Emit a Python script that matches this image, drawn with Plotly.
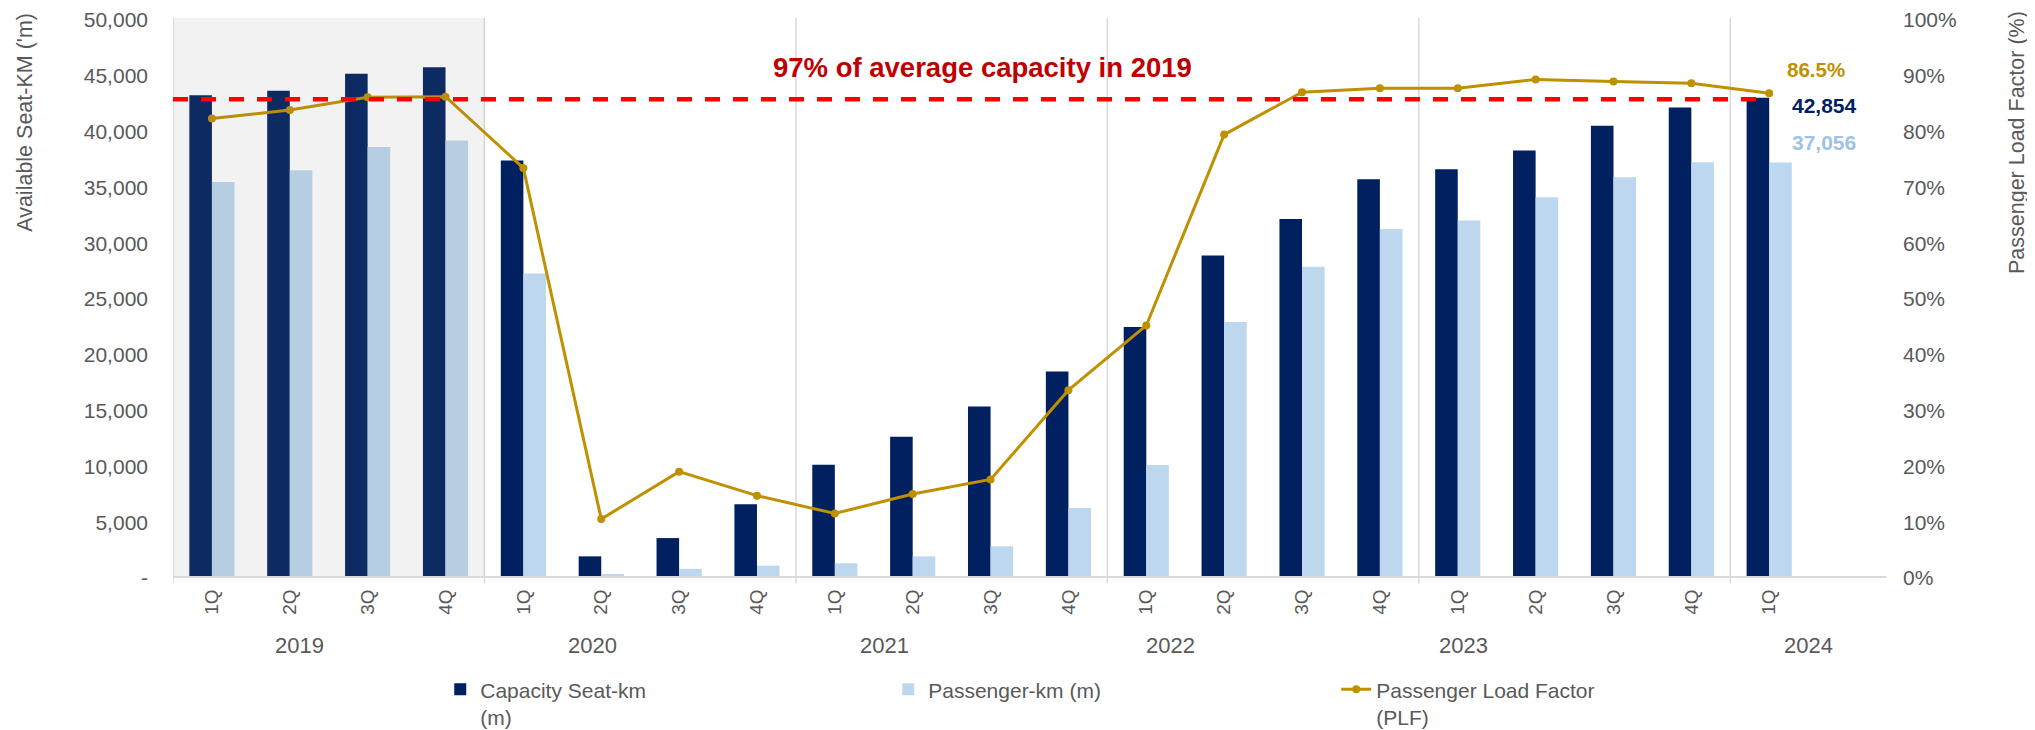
import plotly.graph_objects as go

# ---------------- data ----------------
YEARS = ["2019", "2020", "2021", "2022", "2023", "2024"]
QUARTERS = ["1Q", "2Q", "3Q", "4Q",
            "1Q", "2Q", "3Q", "4Q",
            "1Q", "2Q", "3Q", "4Q",
            "1Q", "2Q", "3Q", "4Q",
            "1Q", "2Q", "3Q", "4Q",
            "1Q"]
YEAR_OF_QUARTER = ["2019"] * 4 + ["2020"] * 4 + ["2021"] * 4 + ["2022"] * 4 + ["2023"] * 4 + ["2024"]

CAPACITY = [43080, 43490, 45000, 45580,
            37220, 1760, 3400, 6420,
            9970, 12470, 15190, 18330,
            22320, 28710, 31990, 35550,
            36440, 38120, 40350, 41990,
            42854]
PASSENGER = [35300, 36360, 38450, 39030,
             27100, 180, 640, 925,
             1140, 1760, 2660, 6090,
             9940, 22770, 27700, 31100,
             31850, 33940, 35730, 37070,
             37056]
PLF = [0.820, 0.835, 0.858, 0.859,
       0.731, 0.102, 0.187, 0.144,
       0.112, 0.147, 0.173, 0.333,
       0.449, 0.791, 0.867, 0.874,
       0.874, 0.890, 0.886, 0.883,
       0.865]
REF_CAPACITY = 42710  # 97% of average capacity in 2019 (as drawn)

Y_TICKS = list(range(0, 50001, 5000))
Y_TICK_TEXT = ["-" if v == 0 else f"{v:,}" for v in Y_TICKS]

# ---------------- styles ----------------
NAVY = "#002060"
LIGHT = "#bdd7ee"
GOLD = "#bf9000"
GRID = "#d9d9d9"
TXT = "#595959"
FONT = "Liberation Sans, Arial, sans-serif"

# the page body has an 8px default margin, so the figure is offset by 8px
BODY = 8
W, H = 2035 - BODY, 730 - BODY

idx = list(range(len(QUARTERS)))
n_slots = len(QUARTERS) + 1  # one empty slot after 2024 1Q

fig = go.Figure()
fig.add_trace(go.Bar(x=idx, y=CAPACITY, name="Capacity Seat-km<br>(m)",
                     marker=dict(color=NAVY, line=dict(width=0))))
fig.add_trace(go.Bar(x=idx, y=PASSENGER, name="Passenger-km (m)",
                     marker=dict(color=LIGHT, line=dict(width=0))))
fig.add_trace(go.Scatter(x=idx, y=PLF, name="Passenger Load Factor<br>(PLF)", yaxis="y2",
                         mode="lines+markers",
                         line=dict(color=GOLD, width=3),
                         marker=dict(color=GOLD, size=8)))

shapes = []
# 2019 shaded region (semi-transparent overlay)
first_2020 = YEAR_OF_QUARTER.index("2020")
shapes.append(dict(type="rect", xref="x", yref="paper", x0=-0.5, x1=first_2020 - 0.5,
                   y0=0, y1=1, fillcolor="rgba(128,128,128,0.105)", line=dict(width=0),
                   layer="above"))
# year separators
for y in YEARS:
    start = YEAR_OF_QUARTER.index(y)
    shapes.append(dict(type="line", xref="x", yref="paper", x0=start - 0.5, x1=start - 0.5,
                       y0=-0.013, y1=1, line=dict(color=GRID, width=1.5), layer="below"))
# reference line
shapes.append(dict(type="line", xref="x", yref="y", x0=-0.5, x1=len(QUARTERS) - 1.1,
                   y0=REF_CAPACITY, y1=REF_CAPACITY,
                   line=dict(color="#ff0000", width=4.5, dash="15px,13px"), layer="above"))

YEAR_LABEL_X = [1.13, 4.89, 8.64, 12.31, 16.07, 20.5]
annotations = []
for y, xp in zip(YEARS, YEAR_LABEL_X):
    annotations.append(dict(x=xp, y=-0.124, xref="x", yref="paper", text=y, showarrow=False,
                            font=dict(family=FONT, size=22, color=TXT),
                            xanchor="center", yanchor="middle"))

annotations += [
    dict(x=9.9, y=45600, xref="x", yref="y", text="<b>97% of average capacity in 2019</b>",
         showarrow=False, font=dict(family=FONT, size=27.5, color="#c00000"),
         xanchor="center", yanchor="middle"),
    dict(x=idx[-1], y=PLF[-1], xref="x", yref="y2", text=f"<b>{PLF[-1]*100:.1f}%</b>",
         showarrow=False, font=dict(family=FONT, size=20.5, color=GOLD),
         xanchor="left", yanchor="middle", xshift=16, yshift=24),
    dict(x=idx[-1], y=CAPACITY[-1], xref="x", yref="y", text=f"<b>{CAPACITY[-1]:,}</b>",
         showarrow=False, font=dict(family=FONT, size=21, color=NAVY),
         xanchor="left", yanchor="middle", xshift=21, yshift=-8),
    dict(x=idx[-1], y=PASSENGER[-1], xref="x", yref="y", text=f"<b>{PASSENGER[-1]:,}</b>",
         showarrow=False, font=dict(family=FONT, size=21, color="#9dc3e6"),
         xanchor="left", yanchor="middle", xshift=21, yshift=20),
    dict(x=-0.0864, y=0.814, xref="paper", yref="paper", text="Available Seat-KM ('m)",
         textangle=-90, showarrow=False, font=dict(family=FONT, size=21.5, color=TXT),
         xanchor="center", yanchor="middle"),
    dict(x=1.0765, y=0.776, xref="paper", yref="paper", text="Passenger Load Factor (%)",
         textangle=-90, showarrow=False, font=dict(family=FONT, size=21.5, color=TXT),
         xanchor="center", yanchor="middle"),
]

fig.update_layout(
    width=W, height=H,
    margin=dict(l=173 - BODY, r=149, t=18 - BODY, b=154, autoexpand=False),
    paper_bgcolor="white", plot_bgcolor="white",
    barmode="group", bargap=0.42, bargroupgap=0,
    font=dict(family=FONT, size=20, color=TXT),
    shapes=shapes, annotations=annotations,
    xaxis=dict(range=[-0.5, n_slots - 0.5], tickmode="array", tickvals=idx, ticktext=QUARTERS,
               tickangle=-90, showgrid=False, zeroline=False, showline=True,
               linecolor=GRID, linewidth=1.5, ticks="", ticklabelstandoff=4,
               automargin=False, ticklabeloverflow="allow",
               tickfont=dict(family=FONT, size=19, color=TXT)),
    yaxis=dict(range=[0, 50000], tickmode="array", tickvals=Y_TICKS, ticktext=Y_TICK_TEXT,
               showgrid=False, zeroline=False, showline=False, ticks="", automargin=False,
               ticklabeloverflow="allow", ticklabelstandoff=24, ticklabelshift=2,
               tickfont=dict(family=FONT, size=21, color=TXT)),
    yaxis2=dict(range=[0, 1], overlaying="y", side="right", tickformat=".0%", dtick=0.1,
                tick0=0, showgrid=False, zeroline=False, showline=False, ticks="",
                automargin=False, ticklabeloverflow="allow", ticklabelstandoff=16,
                ticklabelshift=2, tickfont=dict(family=FONT, size=21, color=TXT)),
    legend=dict(orientation="h", x=0.156, y=-0.167, xanchor="left", yanchor="top",
                entrywidth=403, entrywidthmode="pixels", valign="top",
                font=dict(family=FONT, size=21, color=TXT), bgcolor="rgba(0,0,0,0)",
                traceorder="normal"),
    showlegend=True,
)

fig.write_html("out.html")
